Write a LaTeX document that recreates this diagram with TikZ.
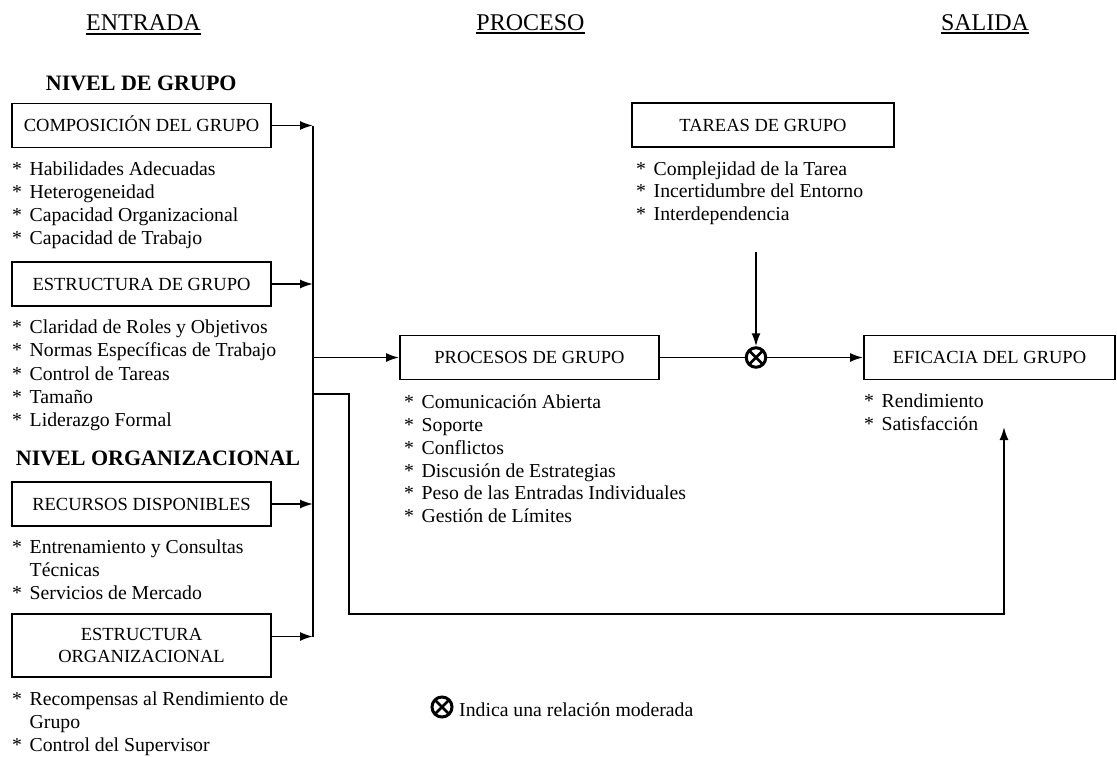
\documentclass[tikz,border=0pt]{standalone}
\usepackage{fontspec}
\setmainfont{Liberation Serif}
\usetikzlibrary{arrows.meta}

% type sizes
\newcommand\headfont{\fontsize{24}{28}\selectfont}
\newcommand\levelfont{\fontsize{22}{26}\selectfont\bfseries}
\newcommand\boxfont{\fontsize{18.5}{22}\selectfont}
\newcommand\listfont{\fontsize{19.75}{23}\selectfont}
% underlined column heading with a heavy rule
\newcommand\hdr[1]{\setbox0\hbox{#1}\rlap{\rule[-4.4pt]{\wd0}{2pt}}\box0}
% leading asterisk of a list entry
\newcommand\itemmark{\makebox[17.5pt][l]{*}}

\begin{document}
\begin{tikzpicture}[x=1pt,y=-1pt,
  box/.style={draw, line width=1.8pt, inner sep=0pt, minimum width=259pt, font=\boxfont, align=center},
  onebox/.style={box, minimum height=44pt, text height=12.4pt, text depth=0pt},
  item/.style={anchor=base west, inner sep=0pt, font=\listfont},
  head/.style={anchor=base, inner sep=0pt, font=\headfont},
  level/.style={anchor=base west, inner sep=0pt, font=\levelfont},
  conn/.style={line width=1.8pt},
  arr/.style={conn, -{Latex[length=13pt,width=9pt]}},
  modnode/.style={circle, draw, line width=3pt, minimum size=19.5pt, inner sep=0pt,
    path picture={\draw[line width=2.8pt]
      (path picture bounding box.north west) -- (path picture bounding box.south east)
      (path picture bounding box.north east) -- (path picture bounding box.south west);}}
]
\useasboundingbox (0,0) rectangle (1117,756);

% column headings
\node[head] (hin)   at (143.5,30.5) {\hdr{ENTRADA}};
\node[head] (hproc) at (530.5,30)   {\hdr{PROCESO}};
\node[head] (hout)  at (985,30)     {\hdr{SALIDA}};

% ---------- inputs: group level ----------
\node[level] (lvg) at (45.7,90.7) {NIVEL DE GRUPO};
\node[onebox] (comp) at (141.5,125.5) {COMPOSICIÓN DEL GRUPO};
\node[item] (g1) at (12,175.5) {\itemmark Habilidades Adecuadas};
\node[item] (g2) at (12,198.5) {\itemmark Heterogeneidad};
\node[item] (g3) at (12,221)   {\itemmark Capacidad Organizacional};
\node[item] (g4) at (12,244)   {\itemmark Capacidad de Trabajo};

\node[onebox] (estr) at (141.5,284) {ESTRUCTURA DE GRUPO};
\node[item] (s1) at (12,333.5) {\itemmark Claridad de Roles y Objetivos};
\node[item] (s2) at (12,356.8) {\itemmark Normas Específicas de Trabajo};
\node[item] (s3) at (12,380.1) {\itemmark Control de Tareas};
\node[item] (s4) at (12,403.4) {\itemmark Tamaño};
\node[item] (s5) at (12,426.7) {\itemmark Liderazgo Formal};

% ---------- inputs: organisational level ----------
\node[level] (lvo) at (15.7,465.7) {NIVEL ORGANIZACIONAL};
\node[onebox] (recu) at (141.5,504) {RECURSOS DISPONIBLES};
\node[item] (r1) at (12,553)   {\itemmark Entrenamiento y Consultas};
\node[item] (r2) at (12,576)   {\hspace*{17.5pt}Técnicas};
\node[item] (r3) at (12,599)   {\itemmark Servicios de Mercado};

\node[box, minimum height=63pt] (eorg) at (141.5,645.5) {ESTRUCTURA\\[0pt]ORGANIZACIONAL};
\node[item] (o1) at (12,705)   {\itemmark Recompensas al Rendimiento de};
\node[item] (o2) at (12,728)   {\hspace*{17.5pt}Grupo};
\node[item] (o3) at (12,751)   {\itemmark Control del Supervisor};

% ---------- process ----------
\node[onebox] (proc) at (529.5,357.5) {PROCESOS DE GRUPO};
\node[item] (p1) at (404,408.3) {\itemmark Comunicación Abierta};
\node[item] (p2) at (404,431.2) {\itemmark Soporte};
\node[item] (p3) at (404,454.1) {\itemmark Conflictos};
\node[item] (p4) at (404,477)   {\itemmark Discusión de Estrategias};
\node[item] (p5) at (404,499.9) {\itemmark Peso de las Entradas Individuales};
\node[item] (p6) at (404,522.8) {\itemmark Gestión de Límites};

% ---------- group tasks ----------
\node[onebox, minimum width=262pt] (tare) at (763,125) {TAREAS DE GRUPO};
\node[item] (t1) at (636,175)   {\itemmark Complejidad de la Tarea};
\node[item] (t2) at (636,197.5) {\itemmark Incertidumbre del Entorno};
\node[item] (t3) at (636,220)   {\itemmark Interdependencia};

% ---------- output ----------
\node[onebox, minimum width=251pt] (efic) at (989.5,357.5) {EFICACIA DEL GRUPO};
\node[item] (e1) at (864,407.5) {\itemmark Rendimiento};
\node[item] (e2) at (864,430.5) {\itemmark Satisfacción};

% moderation symbol
\node[modnode] (mod) at (756,357.5) {};

% ---------- connectors ----------
\coordinate (busT) at (313,125.5);
\coordinate (busB) at (313,637);
\draw[conn] (busT) -- (busB);
\draw[arr] (comp.east) -- (comp.east -| busT);
\draw[arr] (estr.east) -- (estr.east -| busT);
\draw[arr] (recu.east) -- (recu.east -| busT);
\draw[arr] ([yshift=9pt]eorg.east) -- ([yshift=9pt]eorg.east -| busT);
\draw[arr] (busT |- proc.west) -- (proc.west);

\draw[conn] (proc.east) -- (mod.west);
\draw[arr] (mod.east) -- (efic.west);

\coordinate (tdrop) at (756,252);
\draw[arr] (tdrop) -- (mod.north);

% direct path from the inputs to effectiveness
\coordinate (fb) at (313,394);
\coordinate (fbend) at (1004,427);
\draw[arr] (fb) -- (349,394) -- (349,614) -- (1004,614) -- (fbend);

% legend
\node[modnode, minimum size=20pt] (legsym) at (442,707) {};
\node[item] (legtxt) at (459,716.7) {Indica una relación moderada};

\end{tikzpicture}
\end{document}
